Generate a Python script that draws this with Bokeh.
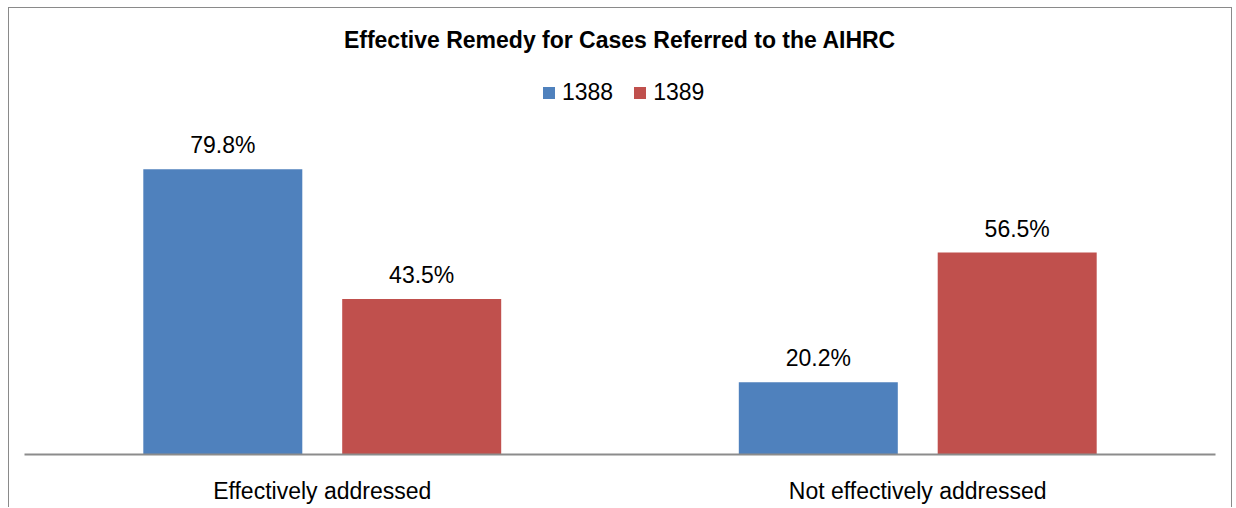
from bokeh.plotting import figure
from bokeh.models import ColumnDataSource, FactorRange, Legend, LegendItem, Range1d
from bokeh.transform import dodge
from bokeh.core.properties import value
from bokeh.embed import file_html
from bokeh.resources import INLINE

categories = ["Effectively addressed", "Not effectively addressed"]
series_names = ["1388", "1389"]
values_1388 = [79.8, 20.2]
values_1389 = [43.5, 56.5]
colors = ["#4F81BD", "#C0504D"]
title_text = "Effective Remedy for Cases Referred to the AIHRC"

FONT = "Liberation Sans"

src = ColumnDataSource(dict(
    cat=categories,
    v1=values_1388,
    v2=values_1389,
    l1=[f"{v:.1f}%" for v in values_1388],
    l2=[f"{v:.1f}%" for v in values_1389],
))

p = figure(
    width=1224, height=500,
    x_range=FactorRange(*categories, range_padding=0),
    y_range=Range1d(0, 108),
    output_backend="svg", toolbar_location=None,
    min_border_left=15, min_border_right=18, min_border_top=60, min_border_bottom=54,
)
p.styles = {
    "margin-left": "8px", "margin-top": "7px",
    "border-top": "1px solid #8a8a8a",
    "border-left": "1px solid #8a8a8a",
    "border-right": "1px solid #8a8a8a",
}
p.outline_line_color = None
p.xgrid.visible = False
p.ygrid.visible = False
p.yaxis.visible = False

p.title.text = title_text
p.title.align = "center"
p.title.vertical_align = "top"
p.title.text_font = FONT
p.title.text_font_size = "23px"
p.title.text_font_style = "bold"
p.title.text_color = "#000000"
p.title.standoff = 28
p.title.offset = 4

xa = p.xaxis[0]
xa.axis_line_color = "#8c8c8c"
xa.axis_line_width = 2
xa.major_tick_line_color = None
xa.minor_tick_line_color = None
xa.major_label_text_font = FONT
xa.major_label_text_font_size = "23px"
xa.major_label_text_color = "#000000"
xa.major_label_standoff = 17

off = 0.167
w = 0.267
r1 = p.vbar(x=dodge("cat", -off, range=p.x_range), top="v1", width=w, source=src,
            fill_color=colors[0], line_color=None)
r2 = p.vbar(x=dodge("cat", off, range=p.x_range), top="v2", width=w, source=src,
            fill_color=colors[1], line_color=None)

for xo, vcol, lcol in [(-off, "v1", "l1"), (off, "v2", "l2")]:
    p.text(x=dodge("cat", xo, range=p.x_range), y=vcol, text=lcol, source=src,
           text_align="center", text_baseline="alphabetic", y_offset=-24,
           text_font=value(FONT), text_font_size=value("23px"), text_color="#000000")

legend = Legend(
    items=[LegendItem(label=series_names[0], renderers=[r1]),
           LegendItem(label=series_names[1], renderers=[r2])],
    orientation="horizontal", location=(517, 348),
    glyph_width=15, glyph_height=15, label_standoff=6, spacing=19,
    padding=0, margin=0, border_line_alpha=0, background_fill_alpha=0,
    label_text_font=FONT, label_text_font_size="23px", label_text_color="#000000",
)
p.add_layout(legend)

open("out.html", "w").write(file_html(p, INLINE))
